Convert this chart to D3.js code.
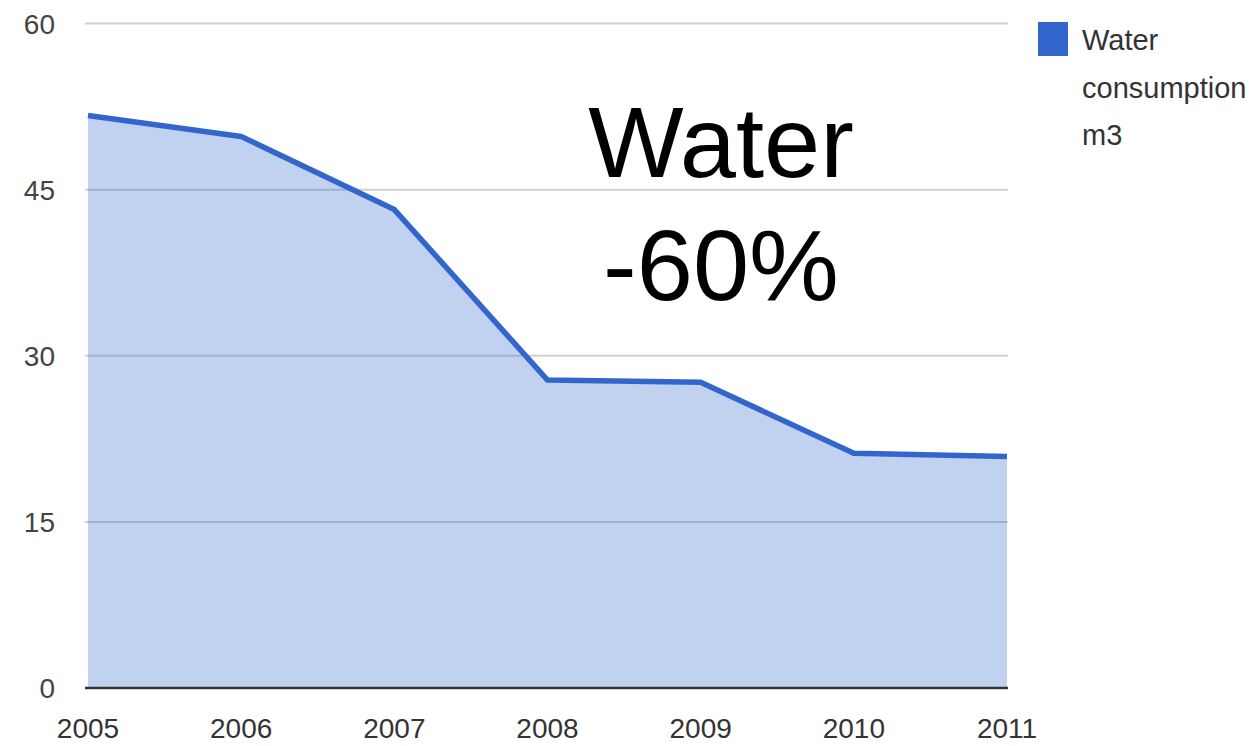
<!DOCTYPE html>
<html>
<head>
<meta charset="utf-8">
<script src="https://cdn.jsdelivr.net/npm/d3@7"></script>
<style>
  body { margin: 0; background: #fff; }
  svg { display: block; font-family: Arial, "Liberation Sans", sans-serif; }
</style>
</head>
<body>
<svg width="1257" height="746"></svg>
<script>
var years = ["2005", "2006", "2007", "2008", "2009", "2010", "2011"];
var water = [51.7, 49.8, 43.2, 27.8, 27.6, 21.2, 20.9];
var yTicks = [0, 15, 30, 45, 60];
var seriesName = ["Water", "consumption", "m3"];
var bigLabel = ["Water", "-60%"];

var svg = d3.select("svg");

var x = d3.scalePoint().domain(years).range([88, 1007]);
var y = d3.scaleLinear().domain([0, 60]).range([688, 23.5]);

// gridlines
svg.append("g")
  .selectAll("line")
  .data(yTicks.filter(function(d) { return d > 0; }))
  .enter().append("line")
  .attr("x1", 85).attr("x2", 1008)
  .attr("y1", function(d) { return y(d); })
  .attr("y2", function(d) { return y(d); })
  .attr("stroke", "#d0d0d0")
  .attr("stroke-width", 2);

var pts = years.map(function(d, i) { return [d, water[i]]; });

var area = d3.area()
  .x(function(d) { return x(d[0]); })
  .y0(y(0))
  .y1(function(d) { return y(d[1]); });

var line = d3.line()
  .x(function(d) { return x(d[0]); })
  .y(function(d) { return y(d[1]); });

svg.append("path")
  .datum(pts)
  .attr("d", area)
  .attr("fill", "#3366cc")
  .attr("fill-opacity", 0.3);

// baseline
svg.append("line")
  .attr("x1", 85).attr("x2", 1008)
  .attr("y1", y(0)).attr("y2", y(0))
  .attr("stroke", "#333")
  .attr("stroke-width", 2.5);

svg.append("path")
  .datum(pts)
  .attr("d", line)
  .attr("fill", "none")
  .attr("stroke", "#3366cc")
  .attr("stroke-width", 5.5)
  .attr("stroke-linejoin", "round");

// y labels
svg.append("g")
  .selectAll("text")
  .data(yTicks)
  .enter().append("text")
  .attr("x", 55)
  .attr("y", function(d) { return y(d) + 10; })
  .attr("text-anchor", "end")
  .attr("font-size", 28)
  .attr("fill", "#444")
  .text(function(d) { return d; });

// x labels
svg.append("g")
  .selectAll("text")
  .data(years)
  .enter().append("text")
  .attr("x", function(d) { return x(d); })
  .attr("y", 738)
  .attr("text-anchor", "middle")
  .attr("font-size", 28)
  .attr("fill", "#333")
  .text(function(d) { return d; });

// legend
svg.append("rect")
  .attr("x", 1038).attr("y", 22)
  .attr("width", 30).attr("height", 34)
  .attr("fill", "#3366cc");

svg.append("g")
  .selectAll("text")
  .data(seriesName)
  .enter().append("text")
  .attr("x", 1082)
  .attr("y", function(d, i) { return 50 + i * 47.5; })
  .attr("font-size", 29)
  .attr("fill", "#333")
  .text(function(d) { return d; });

// big annotation
svg.append("g")
  .selectAll("text")
  .data(bigLabel)
  .enter().append("text")
  .attr("x", 721)
  .attr("y", function(d, i) { return 177 + i * 123; })
  .attr("text-anchor", "middle")
  .attr("font-size", 101)
  .attr("fill", "#000")
  .text(function(d) { return d; });
</script>
</body>
</html>
